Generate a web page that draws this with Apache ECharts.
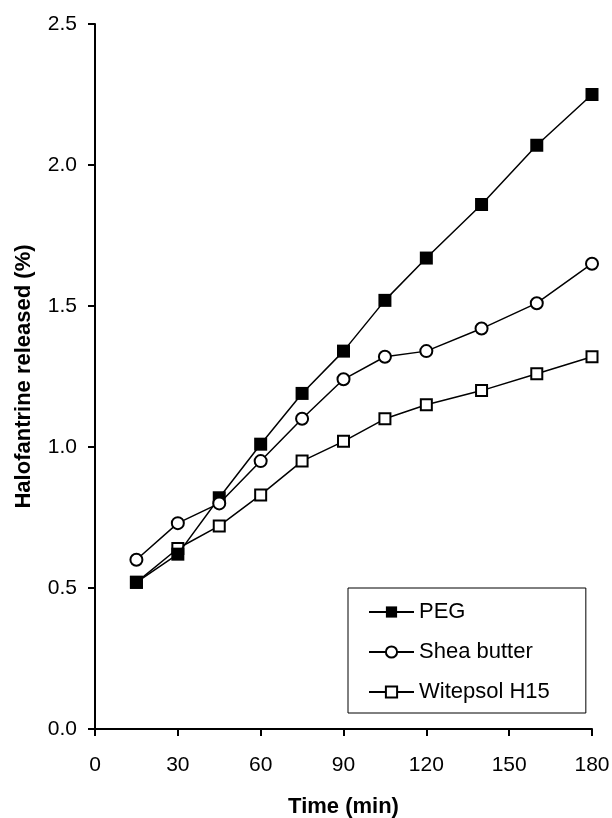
<!DOCTYPE html>
<html>
<head>
<meta charset="utf-8">
<script src="https://cdn.jsdelivr.net/npm/echarts@6/dist/echarts.min.js"></script>
<style>
  html, body { margin: 0; padding: 0; background: #fff; }
  #box { width: 612px; height: 818px; }
</style>
</head>
<body>
<div id="box"></div>
<script>
// time points (min)
let times = [15, 30, 45, 60, 75, 90, 105, 120, 140, 160, 180];
// halofantrine released (%)
let peg = [0.52, 0.62, 0.82, 1.01, 1.19, 1.34, 1.52, 1.67, 1.86, 2.07, 2.25];
let shea = [0.60, 0.73, 0.80, 0.95, 1.10, 1.24, 1.32, 1.34, 1.42, 1.51, 1.65];
let witepsol = [0.52, 0.64, 0.72, 0.83, 0.95, 1.02, 1.10, 1.15, 1.20, 1.26, 1.32];
let seriesNames = ["PEG", "Shea butter", "Witepsol H15"];

let font = "Liberation Sans, Arial, sans-serif";

function pairs(vals) {
  return times.map((t, i) => [t, vals[i]]);
}

let chart = echarts.init(document.getElementById("box"), null, { renderer: "canvas" });

let axisLine = { lineStyle: { color: "#000", width: 2 } };
let axisTick = { inside: false, length: 7, lineStyle: { color: "#000", width: 2 } };

chart.setOption({
  animation: false,
  backgroundColor: "#fff",
  grid: { left: 95, right: 20, top: 24, bottom: 89, outerBoundsMode: "none", containLabel: false },
  legend: {
    data: seriesNames,
    orient: "vertical",
    left: 348,
    top: 588,
    padding: [13, 36, 10, 20],
    itemGap: 18,
    itemWidth: 45,
    itemHeight: 14,
    borderColor: "#000",
    borderWidth: 1,
    textStyle: { fontFamily: font, fontSize: 22, color: "#000", lineHeight: 22 }
  },
  xAxis: {
    type: "value",
    min: 0,
    max: 180,
    interval: 30,
    name: "Time (min)",
    nameLocation: "middle",
    nameGap: 67,
    nameTextStyle: { fontFamily: font, fontSize: 22, fontWeight: "bold", color: "#000" },
    axisLine: axisLine,
    axisTick: axisTick,
    splitLine: { show: false },
    axisLabel: { fontFamily: font, fontSize: 21, color: "#000", margin: 26 }
  },
  yAxis: {
    type: "value",
    min: 0,
    max: 2.5,
    interval: 0.5,
    name: "Halofantrine released (%)",
    nameLocation: "middle",
    nameGap: 60,
    nameTextStyle: { fontFamily: font, fontSize: 22, fontWeight: "bold", color: "#000" },
    axisLine: Object.assign({ show: true }, axisLine),
    axisTick: Object.assign({ show: true }, axisTick),
    splitLine: { show: false },
    axisLabel: {
      fontFamily: font,
      fontSize: 21,
      color: "#000",
      margin: 18,
      formatter: v => v.toFixed(1)
    }
  },
  series: [
    {
      name: "Witepsol H15",
      type: "line",
      data: pairs(witepsol),
      symbol: "emptyRect",
      symbolSize: 11,
      lineStyle: { color: "#000", width: 1.5 },
      itemStyle: { color: "#000", borderWidth: 1.5 },
      z: 2
    },
    {
      name: "PEG",
      type: "line",
      data: pairs(peg),
      symbol: "rect",
      symbolSize: 13,
      lineStyle: { color: "#000", width: 1.5 },
      itemStyle: { color: "#000" },
      z: 3
    },
    {
      name: "Shea butter",
      type: "line",
      data: pairs(shea),
      symbol: "emptyCircle",
      symbolSize: 12,
      lineStyle: { color: "#000", width: 1.5 },
      itemStyle: { color: "#000", borderWidth: 1.5 },
      z: 4
    }
  ]
});
</script>
</body>
</html>
